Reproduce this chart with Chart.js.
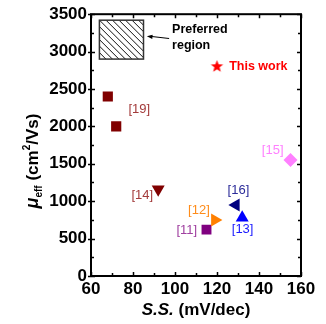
<!DOCTYPE html>
<html>
<head>
<meta charset="utf-8">
<script src="https://cdn.jsdelivr.net/npm/chart.js@4.4.1/dist/chart.umd.min.js"></script>
<style>
  html, body { margin: 0; padding: 0; background: #fff; }
  #wrap { width: 326px; height: 324px; position: relative; }
</style>
</head>
<body>
<div id="wrap"><canvas id="c" width="326" height="324"></canvas></div>
<script>
// ---- data ----
const refLabels = ['[19]', '[15]', '[14]', '[16]', '[12]', '[11]', '[13]'];
const ref19 = [{x: 68, y: 2400}, {x: 72, y: 2000}];
const ref15 = [{x: 155, y: 1550}];
const ref14 = [{x: 92, y: 1160}];
const ref16 = [{x: 129, y: 950}];
const ref12 = [{x: 119, y: 750}];
const ref11 = [{x: 115, y: 620}];
const ref13 = [{x: 132, y: 780}];
const thisWork = [{x: 120, y: 2800}];
const preferredRegion = {xMin: 64, xMax: 85, yMin: 2900, yMax: 3420};
const xTicks = [60, 80, 100, 120, 140, 160];
const yTicks = [0, 500, 1000, 1500, 2000, 2500, 3000, 3500];
// annotation anchors in data units
const refLabelPos = [
  {x: 83, y: 2230}, {x: 146.5, y: 1683}, {x: 84.4, y: 1081}, {x: 130.2, y: 1148},
  {x: 111.4, y: 881}, {x: 105.6, y: 614}, {x: 132.2, y: 623}
];
const refLabelColors = ['#a33b3b', '#ff80ff', '#a33b3b', '#2b2b99', '#ff8c1a', '#a040a0', '#1a1aff'];

// star point image
function starImage(r, color) {
  const s = Math.ceil(r * 2 + 2);
  const cv = document.createElement('canvas');
  cv.width = s; cv.height = s;
  const g = cv.getContext('2d');
  g.fillStyle = color;
  g.beginPath();
  for (let i = 0; i < 10; i++) {
    const rr = i % 2 === 0 ? r : r * 0.42;
    const a = -Math.PI / 2 + i * Math.PI / 5;
    const px = s / 2 + rr * Math.cos(a), py = s / 2 + rr * Math.sin(a);
    if (i === 0) g.moveTo(px, py); else g.lineTo(px, py);
  }
  g.closePath();
  g.fill();
  return cv;
}

const B = 'Liberation Sans, Arial, sans-serif';

const decor = {
  id: 'decor',
  afterDatasetsDraw(chart) {
    const ctx = chart.ctx;
    const xs = chart.scales.x, ys = chart.scales.y;
    ctx.save();
    // preferred region box with hatch
    const bx0 = xs.getPixelForValue(preferredRegion.xMin), bx1 = xs.getPixelForValue(preferredRegion.xMax);
    const by0 = ys.getPixelForValue(preferredRegion.yMax), by1 = ys.getPixelForValue(preferredRegion.yMin);
    ctx.save();
    ctx.beginPath(); ctx.rect(bx0, by0, bx1 - bx0, by1 - by0); ctx.clip();
    ctx.strokeStyle = '#111'; ctx.lineWidth = 1;
    const h = by1 - by0;
    for (let k = -h; k < bx1 - bx0 + h; k += 6.5) {
      ctx.beginPath();
      ctx.moveTo(bx0 + k, by0);
      ctx.lineTo(bx0 + k + h, by1);
      ctx.stroke();
    }
    ctx.restore();
    ctx.strokeStyle = '#333'; ctx.lineWidth = 1.5;
    ctx.strokeRect(bx0, by0, bx1 - bx0, by1 - by0);
    // arrow
    const ax0 = xs.getPixelForValue(97.2), ay0 = ys.getPixelForValue(3175);
    const ax1 = xs.getPixelForValue(86.6), ay1 = ys.getPixelForValue(3205);
    ctx.strokeStyle = '#000'; ctx.fillStyle = '#000'; ctx.lineWidth = 1;
    ctx.beginPath(); ctx.moveTo(ax0, ay0); ctx.lineTo(ax1 + 3, ay1); ctx.stroke();
    const ang = Math.atan2(ay1 - ay0, ax1 - ax0);
    ctx.beginPath();
    ctx.moveTo(ax1, ay1);
    ctx.lineTo(ax1 - 6 * Math.cos(ang - 0.35), ay1 - 6 * Math.sin(ang - 0.35));
    ctx.lineTo(ax1 - 6 * Math.cos(ang + 0.35), ay1 - 6 * Math.sin(ang + 0.35));
    ctx.closePath(); ctx.fill();
    // Preferred region text
    ctx.fillStyle = '#000';
    ctx.font = 'bold 12.5px ' + B;
    ctx.textAlign = 'left'; ctx.textBaseline = 'middle';
    ctx.fillText('Preferred', xs.getPixelForValue(98.6), ys.getPixelForValue(3290));
    ctx.fillText('region', xs.getPixelForValue(98.6), ys.getPixelForValue(3080));
    // This work
    ctx.fillStyle = '#ff0000';
    ctx.font = 'bold 12.5px ' + B;
    ctx.fillText('This work', xs.getPixelForValue(125.8), ys.getPixelForValue(2800));
    // reference labels
    ctx.font = '13px ' + B;
    ctx.textAlign = 'center';
    refLabels.forEach((t, i) => {
      ctx.fillStyle = refLabelColors[i];
      ctx.fillText(t, xs.getPixelForValue(refLabelPos[i].x), ys.getPixelForValue(refLabelPos[i].y));
    });
    ctx.restore();
  },
  afterDraw(chart) {
    const ctx = chart.ctx;
    const xs = chart.scales.x, ys = chart.scales.y;
    const a = chart.chartArea;
    ctx.save();
    ctx.strokeStyle = '#000';
    // frame
    ctx.lineWidth = 2;
    ctx.strokeRect(a.left, a.top, a.right - a.left, a.bottom - a.top);
    ctx.lineWidth = 1.5;
    for (let v = 60; v <= 160; v += 10) {
      const px = Math.round(xs.getPixelForValue(v)) + 0.5;
      const len = (v % 20 === 0) ? 4 : 3;
      ctx.beginPath();
      ctx.moveTo(px, a.bottom); ctx.lineTo(px, a.bottom - len);
      ctx.moveTo(px, a.top); ctx.lineTo(px, a.top + len);
      ctx.stroke();
    }
    for (let v = 0; v <= 3500; v += 250) {
      const py = Math.round(ys.getPixelForValue(v)) + 0.5;
      const major = v % 500 === 0;
      const len = major ? 4 : 3;
      ctx.beginPath();
      ctx.moveTo(a.left - (major ? 3 : 0), py); ctx.lineTo(a.left + len, py);
      ctx.moveTo(a.right, py); ctx.lineTo(a.right - len, py);
      ctx.stroke();
    }
    // axis titles
    ctx.fillStyle = '#000';
    const p1 = 'S.S.', p2 = ' (mV/dec)';
    ctx.font = 'italic bold 17px ' + B; const w1 = ctx.measureText(p1).width;
    ctx.font = 'bold 17px ' + B; const w2 = ctx.measureText(p2).width;
    let x0 = 196 - (w1 + w2) / 2;
    ctx.textAlign = 'left'; ctx.textBaseline = 'alphabetic';
    ctx.font = 'italic bold 17px ' + B; ctx.fillText(p1, x0, 315);
    ctx.font = 'bold 17px ' + B; ctx.fillText(p2, x0 + w1, 315);
    ctx.save();
    ctx.translate(38, 161);
    ctx.rotate(-Math.PI / 2);
    const parts = [
      {t: 'μ', f: 'italic bold 18px ' + B, dy: 0},
      {t: 'eff', f: 'bold 10px ' + B, dy: 4},
      {t: ' (cm', f: 'bold 17px ' + B, dy: 0},
      {t: '2', f: 'bold 10px ' + B, dy: -8},
      {t: '/Vs)', f: 'bold 17px ' + B, dy: 0}
    ];
    let tw = 0;
    parts.forEach(p => { ctx.font = p.f; p.w = ctx.measureText(p.t).width; tw += p.w; });
    let cx = -tw / 2;
    parts.forEach(p => { ctx.font = p.f; ctx.fillText(p.t, cx, p.dy); cx += p.w; });
    ctx.restore();
    ctx.restore();
  }
};

const tri = (data, color, rot) => ({
  data, pointStyle: 'triangle', rotation: rot, radius: 7.5,
  backgroundColor: color, borderColor: color, borderWidth: 0
});

new Chart(document.getElementById('c'), {
  type: 'scatter',
  data: {
    datasets: [
      {data: ref19, pointStyle: 'rect', radius: 7.2, backgroundColor: '#800000', borderColor: '#800000', borderWidth: 0},
      {data: ref15, pointStyle: 'rectRot', radius: 7, backgroundColor: '#ff80ff', borderColor: '#ff80ff', borderWidth: 0},
      tri(ref14, '#800000', 180),
      tri(ref16, '#000080', 270),
      tri(ref12, '#ff8000', 90),
      {data: ref11, pointStyle: 'rect', radius: 7, backgroundColor: '#800080', borderColor: '#800080', borderWidth: 0},
      tri(ref13, '#0000ff', 0),
      {data: thisWork, pointStyle: starImage(6.5, '#ff0000'), radius: 7}
    ]
  },
  options: {
    responsive: false,
    animation: false,
    events: [],
    layout: {padding: {left: 0, right: 25, top: 14, bottom: 0}},
    plugins: {legend: {display: false}, tooltip: {enabled: false}},
    scales: {
      x: {
        type: 'linear', min: 60, max: 160,
        afterFit(s) { s.height = 48; },
        afterBuildTicks(s) { s.ticks = xTicks.map(v => ({value: v})); },
        grid: {display: false, drawTicks: false},
        border: {display: false},
        ticks: {color: '#000', font: {family: B, size: 17, weight: 'bold'}, padding: 3, maxRotation: 0,
                callback: v => String(v)}
      },
      y: {
        type: 'linear', min: 0, max: 3500,
        afterFit(s) { s.width = 91; },
        afterBuildTicks(s) { s.ticks = yTicks.map(v => ({value: v})); },
        grid: {display: false, drawTicks: false},
        border: {display: false},
        ticks: {color: '#000', font: {family: B, size: 17, weight: 'bold'}, padding: 4,
                callback: v => String(v)}
      }
    }
  },
  plugins: [decor]
});
</script>
</body>
</html>
